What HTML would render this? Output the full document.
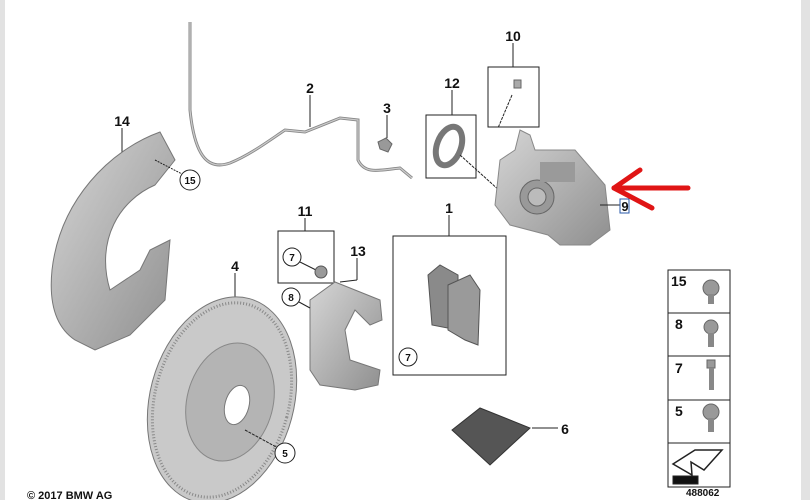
<!DOCTYPE html>
<html><head><meta charset="utf-8"><style>
html,body{margin:0;padding:0;background:#fff;}
svg{display:block;}
text{font-family:"Liberation Sans",sans-serif;font-weight:bold;fill:#111;}
</style></head><body>
<svg width="810" height="500" viewBox="0 0 810 500" xmlns="http://www.w3.org/2000/svg">
<rect width="810" height="500" fill="#fff"/>
<rect x="0" y="0" width="5" height="500" fill="#e2e2e2"/>
<rect x="801" y="0" width="9" height="500" fill="#e2e2e2"/>
<defs>
<linearGradient id="g" x1="0" y1="0" x2="1" y2="1"><stop offset="0" stop-color="#d6d6d6"/><stop offset="1" stop-color="#8f8f8f"/></linearGradient>
</defs>
<g stroke="#222" stroke-width="1" fill="none">
<!-- 14 shield -->
<line x1="122" y1="128" x2="122" y2="152"/>
<path d="M160 132 C110 150 60 200 52 270 C48 310 60 330 75 340 L95 350 L130 335 L165 300 L170 240 L150 250 L140 270 L110 290 C95 240 120 200 155 185 L175 160 Z" fill="url(#g)" stroke="#777"/>
<line x1="155" y1="160" x2="182" y2="174" stroke-dasharray="2,1"/>
<circle cx="190" cy="180" r="10" fill="#fff"/>
<!-- wire 2 -->
<path d="M190 22 L190 110 C195 160 210 170 230 163 C250 155 270 140 285 130 L305 132 L340 118 L358 120 L358 160 C365 175 380 170 400 168 L412 178" stroke="#888" stroke-width="3"/>
<path d="M190 22 L190 110 C195 160 210 170 230 163 C250 155 270 140 285 130 L305 132 L340 118 L358 120 L358 160 C365 175 380 170 400 168 L412 178" stroke="#ccc" stroke-width="1.2"/>
<line x1="310" y1="95" x2="310" y2="127"/>
<line x1="387" y1="115" x2="387" y2="138"/>
<path d="M378 142 l8 -4 l6 6 l-4 8 l-8 -3 z" fill="#999" stroke="#666"/>
<!-- 12 -->
<line x1="452" y1="90" x2="452" y2="115"/>
<rect x="426" y="115" width="50" height="63"/>
<ellipse cx="449" cy="146" rx="12" ry="20" transform="rotate(20 449 146)" stroke="#777" stroke-width="6"/>
<line x1="460" y1="155" x2="510" y2="200" stroke-dasharray="3,1"/>
<!-- 10 -->
<line x1="513" y1="43" x2="513" y2="67"/>
<rect x="488" y="67" width="51" height="60"/>
<rect x="514" y="80" width="7" height="8" fill="#aaa" stroke="#666"/>
<line x1="512" y1="95" x2="498" y2="128" stroke-dasharray="3,1"/>
<!-- caliper -->
<path d="M500 160 L515 150 L520 130 L530 135 L535 150 L575 150 L605 185 L610 230 L590 245 L560 245 L548 235 L510 225 L495 205 Z" fill="url(#g)" stroke="#888"/>
<circle cx="537" cy="197" r="17" fill="#999" stroke="#666"/>
<circle cx="537" cy="197" r="9" fill="#bbb" stroke="#666"/>
<rect x="540" y="162" width="35" height="20" fill="#9a9a9a" stroke="none"/>
<line x1="600" y1="205" x2="620" y2="205"/>
<rect x="620" y="199" width="9" height="14" stroke="#2a5aa8"/>
<!-- 11 -->
<line x1="305" y1="218" x2="305" y2="231"/>
<rect x="278" y="231" width="56" height="52"/>
<circle cx="292" cy="257" r="9" fill="#fff"/>
<line x1="300" y1="262" x2="316" y2="270"/>
<circle cx="321" cy="272" r="6" fill="#999" stroke="#555"/>
<!-- 13 bracket -->
<line x1="357" y1="258" x2="357" y2="280"/>
<line x1="340" y1="282" x2="357" y2="280"/>
<path d="M310 300 L335 282 L380 300 L382 320 L370 325 L355 310 L345 330 L350 360 L380 370 L378 385 L355 390 L320 385 L310 370 Z" fill="url(#g)" stroke="#777"/>
<circle cx="291" cy="297" r="9" fill="#fff"/>
<line x1="299" y1="302" x2="310" y2="308"/>
<!-- 1 pads -->
<line x1="449" y1="215" x2="449" y2="236"/>
<rect x="393" y="236" width="113" height="139"/>
<path d="M428 275 L440 265 L458 275 L458 330 L432 325 Z" fill="#8a8a8a" stroke="#555"/>
<path d="M448 285 L470 275 L480 290 L478 345 L465 340 L448 330 Z" fill="#9a9a9a" stroke="#555"/>
<circle cx="408" cy="357" r="9" fill="#fff"/>
<!-- 4 disc -->
<line x1="235" y1="273" x2="235" y2="300"/>
<ellipse cx="222" cy="400" rx="72" ry="105" transform="rotate(15 222 400)" fill="#c9c9c9" stroke="#777"/>
<ellipse cx="222" cy="400" rx="67" ry="99" transform="rotate(15 222 400)" stroke="#888" stroke-width="3" stroke-dasharray="1,2"/>
<ellipse cx="230" cy="402" rx="43" ry="60" transform="rotate(15 230 402)" fill="#b4b4b4" stroke="#888"/>
<ellipse cx="237" cy="405" rx="12" ry="20" transform="rotate(15 237 405)" fill="#fff" stroke="#777"/>
<line x1="245" y1="430" x2="278" y2="448" stroke-dasharray="3,1"/>
<circle cx="285" cy="453" r="10" fill="#fff"/>
<!-- 6 -->
<path d="M452 430 L480 408 L530 428 L490 465 Z" fill="#555" stroke="#333"/>
<line x1="532" y1="428" x2="558" y2="428"/>
<!-- table -->
<rect x="668" y="270" width="62" height="217"/>
<line x1="668" y1="313" x2="730" y2="313"/>
<line x1="668" y1="356" x2="730" y2="356"/>
<line x1="668" y1="400" x2="730" y2="400"/>
<line x1="668" y1="443" x2="730" y2="443"/>
<circle cx="711" cy="288" r="8" fill="#999" stroke="#666"/><rect x="708" y="294" width="6" height="10" fill="#888" stroke="none"/>
<circle cx="711" cy="327" r="7" fill="#999" stroke="#666"/><rect x="708" y="333" width="6" height="14" fill="#888" stroke="none"/>
<rect x="707" y="360" width="8" height="8" fill="#999" stroke="#666"/><rect x="709" y="368" width="5" height="22" fill="#888" stroke="none"/>
<circle cx="711" cy="412" r="8" fill="#999" stroke="#666"/><rect x="708" y="418" width="6" height="14" fill="#888" stroke="none"/>
<path d="M673 464 L695 450 L722 450 L704 470 L691 462 L692 475 Z" fill="#fff" stroke="#222" stroke-width="1.5"/>
<rect x="673" y="476" width="25" height="8" fill="#111"/>
</g>
<!-- red arrow -->
<g stroke="#e01515" stroke-width="5" stroke-linecap="round" fill="none">
<line x1="614" y1="188" x2="688" y2="188"/>
<line x1="614" y1="188" x2="640" y2="170"/>
<line x1="614" y1="188" x2="652" y2="208"/>
</g>
<g font-size="14" text-anchor="middle">
<text x="122" y="126">14</text>
<text x="310" y="93">2</text>
<text x="387" y="113">3</text>
<text x="452" y="88">12</text>
<text x="513" y="41">10</text>
<text x="305" y="216">11</text>
<text x="449" y="213">1</text>
<text x="358" y="256">13</text>
<text x="235" y="271">4</text>
<text x="565" y="434">6</text>
<text x="625" y="211" fill="#2a5aa8" font-size="13">9</text>
</g>
<g font-size="10" text-anchor="middle">
<text x="190" y="184">15</text>
<text x="292" y="261">7</text>
<text x="291" y="301">8</text>
<text x="408" y="361">7</text>
<text x="285" y="457">5</text>
</g>
<g font-size="14">
<text x="671" y="286">15</text>
<text x="675" y="329">8</text>
<text x="675" y="373">7</text>
<text x="675" y="416">5</text>
</g>
<text x="27" y="499" font-size="11" font-weight="normal">© 2017 BMW AG</text>
<text x="686" y="496" font-size="10" font-weight="normal" fill="#555">488062</text>
</svg>
</body></html>
